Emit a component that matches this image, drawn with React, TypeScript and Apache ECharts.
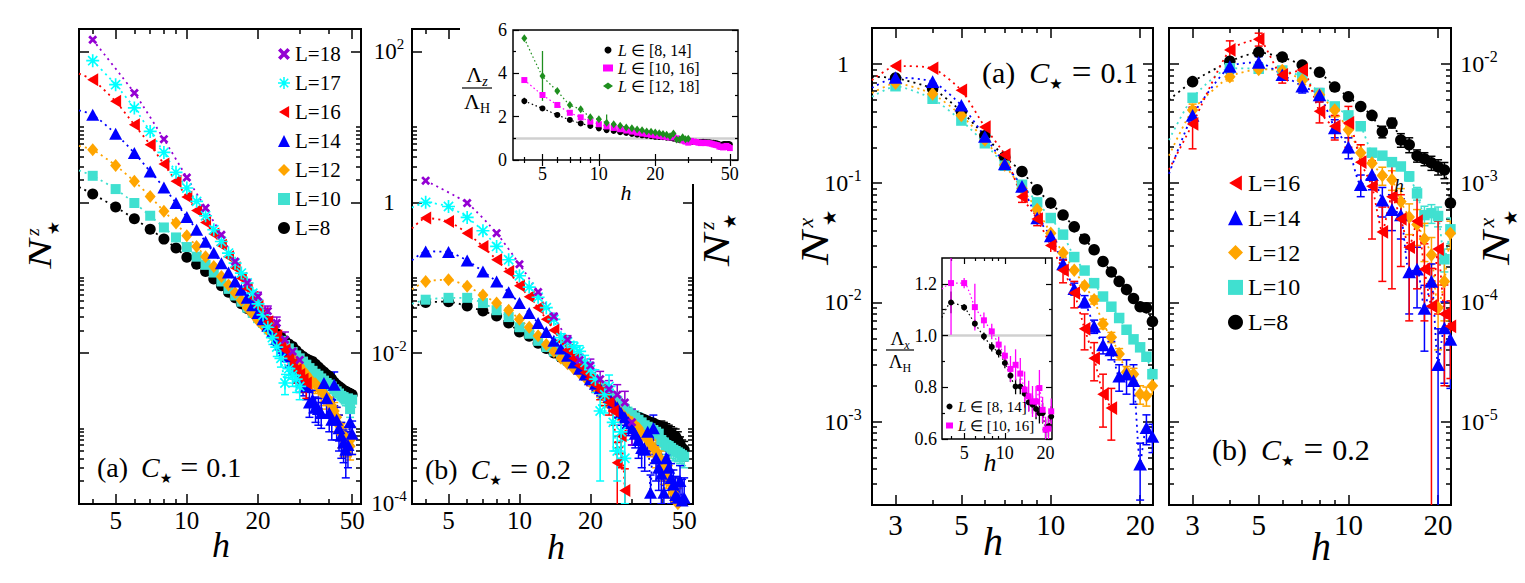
import { useEffect, useRef } from 'react'
import * as echarts from 'echarts'

const FONT = "'Liberation Serif', 'Times New Roman', serif"
const STAR_FONT = "'DejaVu Sans', sans-serif"

const COLORS = {
  black: '#000000',
  turquoise: '#40e0d0',
  orange: '#ffa500',
  blue: '#0000ff',
  red: '#ff0000',
  cyan: '#00ffff',
  violet: '#9400d3',
  magenta: '#ff00ff',
  green: '#1f8f1f',
}

// tick values
const hMajorZ = [5, 10, 20, 50]
const hMinorZ = [4, 6, 7, 8, 9, 30, 40]
const nzMajor = [1e-4, 1e-2, 1, 100]
const nzMinor = [2e-4, 3e-4, 4e-4, 5e-4, 6e-4, 7e-4, 8e-4, 9e-4, 1e-3, 0.02, 0.03, 0.04, 0.05, 0.06, 0.07, 0.08, 0.09, 0.1, 2, 3, 4, 5, 6, 7, 8, 9, 10]
const hMajorX = [3, 5, 10, 20]
const hMinorX = [4, 6, 7, 8, 9]
const nxMajorA = [1e-3, 1e-2, 0.1, 1]
const nxMajorB = [1e-5, 1e-4, 1e-3, 1e-2]
const lzMajorY = [0, 2, 4, 6]
const lzMinorY = [1, 3, 5]
const lxMajorX = [5, 10, 20]
const lxMajorY = [0.6, 0.8, 1.0, 1.2]
const lxMinorY = [0.7, 0.9, 1.1]

// N*^z, C* = 0.1   [h, value, error]
const zA18 = [[4, 144], [6, 28.3], [8, 6.9], [10, 2.14], [12, 0.84], [14, 0.372], [16, 0.164], [18, 0.085, 0.01], [20, 0.056, 0.008], [22, 0.036, 0.006], [24, 0.025, 0.005], [26, 0.015, 0.004], [28, 0.0105, 0.003], [30, 0.0081, 0.0025]]
const zA17 = [[4, 76], [5, 36.5], [6, 17.9], [7, 8.75], [8, 4.6], [9, 2.5], [10, 1.55], [11, 1.03], [12, 0.664], [13, 0.433], [14, 0.302], [15, 0.212], [16, 0.156], [17, 0.115], [18, 0.085], [19, 0.062, 0.006], [20, 0.045, 0.005], [21, 0.032, 0.004], [22, 0.022, 0.004], [23, 0.016, 0.003], [24, 0.012, 0.003], [25, 0.0085, 0.002], [26, 0.004, 0.0012], [27, 0.0062, 0.0015], [28, 0.0051, 0.0015], [29, 0.0045, 0.0015], [30, 0.0036, 0.0012]]
const zA16 = [[4, 42.5], [5, 21.9], [6, 10.7], [7, 5.82], [8, 3.22], [9, 1.9], [10, 1.18], [11, 0.78], [12, 0.54], [13, 0.38], [14, 0.27], [15, 0.19], [16, 0.135], [17, 0.098], [18, 0.072], [19, 0.055], [20, 0.042, 0.004], [21, 0.033, 0.004], [22, 0.026, 0.004], [23, 0.021, 0.004], [24, 0.017, 0.003], [25, 0.0135, 0.003], [26, 0.011, 0.003], [27, 0.0088, 0.002], [28, 0.0072, 0.002], [29, 0.006, 0.002], [30, 0.0052, 0.0015], [31, 0.0045, 0.0015], [32, 0.004, 0.0015]]
const zA14 = [[4, 14.6], [5, 8.15], [6, 4.52], [7, 2.57], [8, 1.58], [9, 0.98], [10, 0.64], [11, 0.433], [12, 0.3], [13, 0.215], [14, 0.156], [15, 0.117], [16, 0.089], [17, 0.069], [18, 0.054], [19, 0.043], [20, 0.034], [21, 0.028, 0.003], [22, 0.023, 0.003], [23, 0.019, 0.003], [24, 0.0155, 0.003], [25, 0.013, 0.003], [26, 0.0108, 0.003], [27, 0.009, 0.0025], [28, 0.0078, 0.0025], [29, 0.006, 0.002], [30, 0.005, 0.002], [31, 0.0042, 0.0015], [32, 0.0036, 0.0012], [33, 0.0022, 0.0008], [34, 0.0024, 0.0008], [35, 0.0019, 0.0007], [36, 0.0018, 0.0007], [37, 0.0016, 0.0006], [38, 0.004, 0.0015], [39, 0.0025, 0.001], [40, 0.0016, 0.0007], [41, 0.0013, 0.0006], [42, 0.0038, 0.0018], [43, 0.0013, 0.0006], [44, 0.001, 0.0005], [45, 0.0008, 0.0004], [46, 0.00065, 0.0003], [47, 0.00052, 0.0003], [48, 0.0006, 0.0003], [49, 0.0012, 0.0006], [50, 0.00085, 0.0004]]
const zA12 = [[4, 5.0], [5, 3.09], [6, 1.9], [7, 1.2], [8, 0.76], [9, 0.53], [10, 0.36], [11, 0.26], [12, 0.19], [13, 0.141], [14, 0.104], [15, 0.08], [16, 0.063], [17, 0.05], [18, 0.04], [19, 0.033], [20, 0.027], [21, 0.023], [22, 0.02], [23, 0.017], [24, 0.0148, 0.002], [25, 0.013, 0.002], [26, 0.0112, 0.002], [27, 0.0098, 0.002], [28, 0.0086, 0.002], [29, 0.0076, 0.0015], [30, 0.0067, 0.0015], [31, 0.0058, 0.0015], [32, 0.0052, 0.0012], [33, 0.0046, 0.0012], [34, 0.0041, 0.001], [35, 0.0039, 0.001], [36, 0.0035, 0.001], [37, 0.0031, 0.0009], [38, 0.0029, 0.0009], [39, 0.0026, 0.0008], [40, 0.0022, 0.0007], [41, 0.002, 0.0006], [42, 0.0017, 0.0005], [43, 0.0014, 0.0005], [44, 0.0011, 0.0004], [45, 0.00085, 0.0003], [46, 0.00072, 0.0003], [47, 0.00075, 0.0003], [48, 0.00062, 0.0002], [49, 0.00058, 0.0002], [50, 0.00075, 0.0003]]
const zA10 = [[4, 2.25], [5, 1.5], [6, 0.98], [7, 0.664], [8, 0.464], [9, 0.342], [10, 0.255], [11, 0.19], [12, 0.148], [13, 0.117], [14, 0.089], [15, 0.071], [16, 0.058], [17, 0.048], [18, 0.04], [19, 0.034], [20, 0.029], [21, 0.025], [22, 0.022], [23, 0.019], [24, 0.0165], [25, 0.0145], [26, 0.0128], [27, 0.0115], [28, 0.0103], [29, 0.0093], [30, 0.0085], [31, 0.0077], [32, 0.007], [33, 0.0063], [34, 0.0058], [35, 0.0053], [36, 0.005], [37, 0.0046], [38, 0.0043], [39, 0.004], [40, 0.0038], [41, 0.0036], [42, 0.0033], [43, 0.0031], [44, 0.0029], [45, 0.0027], [46, 0.0026, 0.0004], [47, 0.0024, 0.0004], [48, 0.0025, 0.0005], [49, 0.0018, 0.0004], [50, 0.0024, 0.0005]]
const zA8 = [[4, 1.29], [5, 0.865], [6, 0.605], [7, 0.44], [8, 0.325], [9, 0.247], [10, 0.187], [11, 0.151], [12, 0.121], [13, 0.096], [14, 0.078], [15, 0.064], [16, 0.054], [17, 0.045], [18, 0.039], [19, 0.034], [20, 0.03], [21, 0.026], [22, 0.023], [23, 0.02], [24, 0.018], [25, 0.016], [26, 0.0145], [27, 0.0132], [28, 0.0122], [29, 0.0108], [30, 0.0097], [31, 0.009], [32, 0.0084], [33, 0.008], [34, 0.0077], [35, 0.0071], [36, 0.0065], [37, 0.006], [38, 0.0056], [39, 0.0052], [40, 0.0049], [41, 0.0045], [42, 0.0041], [43, 0.0038], [44, 0.0036], [45, 0.0034], [46, 0.0032, 0.0003], [47, 0.0031, 0.0003], [48, 0.003, 0.0003], [49, 0.0029, 0.0003], [50, 0.0028, 0.0003]]
const zALead = [null, null, [3.5, 51], [3.5, 16.6], [3.5, 5.6], [3.5, 2.65], [3.5, 1.6]]

// N*^z, C* = 0.2
const zB18 = [[4, 1.94], [6, 0.977], [8, 0.39], [10, 0.151], [12, 0.0645], [14, 0.0305, 0.003], [16, 0.015, 0.002], [18, 0.0081, 0.0015], [20, 0.0068, 0.0015], [22, 0.0045, 0.0012], [24, 0.0033, 0.001], [26, 0.0028, 0.001], [28, 0.0022, 0.0009], [30, 0.0012, 0.0006]]
const zB17 = [[4, 1.0], [5, 0.88], [6, 0.63], [7, 0.42], [8, 0.26], [9, 0.173], [10, 0.106], [11, 0.075], [12, 0.055], [13, 0.04], [14, 0.028], [15, 0.016, 0.002], [16, 0.014, 0.002], [17, 0.012, 0.002], [18, 0.0105, 0.002], [19, 0.0075, 0.0018], [20, 0.006, 0.0015], [21, 0.0045, 0.0015], [22, 0.0017, 0.0015], [23, 0.0028, 0.0012], [24, 0.0036, 0.0015], [25, 0.0012, 0.0007], [26, 0.0005, 0.0003], [27, 0.0009, 0.0005], [28, 0.0004, 0.0003]]
const zB16 = [[4, 0.62], [5, 0.557], [6, 0.39], [7, 0.26], [8, 0.173], [9, 0.121], [10, 0.078], [11, 0.056], [12, 0.04], [13, 0.028], [14, 0.02], [15, 0.0145], [16, 0.011], [17, 0.0085, 0.001], [18, 0.0068, 0.001], [19, 0.0055, 0.001], [20, 0.0046, 0.0009], [21, 0.0038, 0.0008], [22, 0.0032, 0.0008], [23, 0.0027, 0.0007], [24, 0.0022, 0.0007], [25, 0.0017, 0.0006], [26, 0.00035, 0.0003], [27, 0.0008, 0.0005], [28, 0.00015, 0.00014]]
const zB14 = [[4, 0.223], [5, 0.219], [6, 0.169], [7, 0.121], [8, 0.089], [9, 0.064], [10, 0.046], [11, 0.034], [12, 0.025], [13, 0.019], [14, 0.0145], [15, 0.0115], [16, 0.0092], [17, 0.0075], [18, 0.0062], [19, 0.0052, 0.0008], [20, 0.0045, 0.0008], [21, 0.0039, 0.0007], [22, 0.0034, 0.0007], [23, 0.003, 0.0006], [24, 0.0026, 0.0006], [25, 0.0022, 0.0005], [26, 0.0019, 0.0005], [27, 0.0016, 0.0005], [28, 0.0014, 0.0004], [29, 0.0012, 0.0004], [30, 0.001, 0.0004], [31, 0.00085, 0.0003], [32, 0.0007, 0.0003], [33, 0.00055, 0.00025], [34, 0.00052, 0.00025], [35, 0.0009, 0.0004], [36, 0.00014, 0.0001], [37, 0.001, 0.0005], [38, 0.0004, 0.0002], [39, 0.0003, 0.00015], [40, 0.00025, 0.00015], [41, 0.00014, 0.0001], [42, 0.0004, 0.0002], [43, 0.0003, 0.00015], [44, 0.00022, 0.00012], [45, 0.00018, 0.0001], [46, 0.00013, 0.0001], [47, 0.00012, 0.0001], [48, 0.0002, 0.00012], [49, 0.00011, 0.0001], [50, 0.00012, 0.0001]]
const zB12 = [[4, 0.089], [5, 0.094], [6, 0.077], [7, 0.059], [8, 0.046], [9, 0.037], [10, 0.028], [11, 0.022], [12, 0.017], [13, 0.013], [14, 0.0105], [15, 0.0085], [16, 0.0072], [17, 0.0062], [18, 0.0054], [19, 0.0047], [20, 0.0041], [21, 0.0036, 0.0005], [22, 0.0031, 0.0005], [23, 0.0027, 0.0005], [24, 0.0024, 0.0005], [25, 0.0021, 0.0004], [26, 0.0018, 0.0004], [27, 0.0016, 0.0004], [28, 0.0014, 0.0004], [29, 0.0013, 0.0003], [30, 0.0012, 0.0003], [31, 0.0011, 0.0003], [32, 0.001, 0.0003], [33, 0.00085, 0.00025], [34, 0.0008, 0.00025], [35, 0.0007, 0.0002], [36, 0.00062, 0.0002], [37, 0.00055, 0.0002], [38, 0.0005, 0.0002], [39, 0.00042, 0.00015], [40, 0.00035, 0.00015], [41, 0.0003, 0.00012], [42, 0.00028, 0.00012], [43, 0.00022, 0.0001], [44, 0.00018, 0.0001], [45, 0.00014, 0.00008], [46, 0.00011, 0.00006], [47, 0.0001, 0.00006]]
const zB10 = [[4, 0.051], [5, 0.054], [6, 0.054], [7, 0.046], [8, 0.037], [9, 0.03], [10, 0.022], [11, 0.018], [12, 0.0145], [13, 0.012], [14, 0.0105], [15, 0.0092], [16, 0.008], [17, 0.007], [18, 0.0062], [19, 0.0055], [20, 0.0048], [21, 0.0042], [22, 0.0037], [23, 0.0033, 0.0004], [24, 0.0029, 0.0004], [25, 0.0026, 0.0004], [26, 0.0023, 0.0004], [27, 0.002, 0.0004], [28, 0.0018, 0.0003], [29, 0.0016, 0.0003], [30, 0.0015, 0.0003], [31, 0.0014, 0.0003], [32, 0.0013, 0.0003], [33, 0.0012, 0.0003], [34, 0.0011, 0.0002], [35, 0.00105, 0.0002], [36, 0.001, 0.0002], [37, 0.00095, 0.0002], [38, 0.0009, 0.0002], [39, 0.00085, 0.0002], [40, 0.0007, 0.0002], [41, 0.00065, 0.00015], [42, 0.0006, 0.00015], [43, 0.00058, 0.00015], [44, 0.00055, 0.00015], [45, 0.00052, 0.00015], [46, 0.0005, 0.00012], [47, 0.00048, 0.00012], [48, 0.00046, 0.00012], [49, 0.00044, 0.00012], [50, 0.00042, 0.00012]]
const zB8 = [[4, 0.047], [5, 0.048], [6, 0.042], [7, 0.036], [8, 0.031], [9, 0.025], [10, 0.019], [11, 0.0167], [12, 0.0135], [13, 0.0115], [14, 0.01], [15, 0.0088], [16, 0.0077], [17, 0.0068], [18, 0.006], [19, 0.0053], [20, 0.0047], [21, 0.0042], [22, 0.0037], [23, 0.0033], [24, 0.0029], [25, 0.0026], [26, 0.0023], [27, 0.002], [28, 0.0018], [29, 0.0016], [30, 0.0015], [31, 0.00145], [32, 0.0014], [33, 0.00135], [34, 0.0013], [35, 0.00125], [36, 0.0012], [37, 0.00118], [38, 0.00112], [39, 0.00108], [40, 0.00105, 0.0002], [41, 0.001, 0.0002], [42, 0.00095, 0.0002], [43, 0.0009, 0.0002], [44, 0.00085, 0.0002], [45, 0.0008, 0.0002], [46, 0.00078, 0.0002], [47, 0.0007, 0.0002], [48, 0.00062, 0.00015], [49, 0.00055, 0.00015], [50, 0.00052, 0.00015]]
const zBLead = [null, [3.5, 0.85], [3.5, 0.45], [3.5, 0.17], [3.5, 0.07], [3.5, 0.045], [3.5, 0.04]]

// inset: Lambda_z / Lambda_H
const lz8to14 = [[4, 2.72, 0.15], [5, 2.38], [6, 2.08], [7, 1.85], [8, 1.69], [9, 1.57], [10, 1.46], [11, 1.38], [12, 1.34], [13, 1.28], [14, 1.25], [15, 1.2], [16, 1.17], [17, 1.14], [18, 1.12], [19, 1.1], [20, 1.07], [21, 1.06], [22, 1.05], [23, 1.03], [24, 1.02], [25, 0.98], [26, 0.95], [27, 0.92], [28, 0.9], [29, 0.88], [30, 0.86], [31, 0.85], [32, 0.84], [33, 0.84], [34, 0.82], [35, 0.83], [36, 0.84], [37, 0.83], [38, 0.82], [39, 0.82], [40, 0.8], [41, 0.79], [42, 0.78], [43, 0.76], [44, 0.72], [45, 0.7], [46, 0.72], [47, 0.74], [48, 0.73], [49, 0.74], [50, 0.72]]
const lz10to16 = [[4, 3.69], [5, 3.0], [6, 2.54], [7, 2.18], [8, 1.97], [9, 1.77], [10, 1.65], [11, 1.55], [12, 1.48], [13, 1.42], [14, 1.36], [15, 1.31], [16, 1.26], [17, 1.22], [18, 1.19], [19, 1.16], [20, 1.13], [21, 1.1], [22, 1.08], [23, 1.06], [24, 1.04], [25, 1.06], [26, 1.0], [27, 0.95], [28, 0.9], [29, 0.85], [30, 0.8], [31, 0.88], [32, 0.85], [33, 0.83], [34, 0.8], [35, 0.78], [36, 0.8], [37, 0.78], [38, 0.79], [39, 0.77], [40, 0.75], [41, 0.72], [42, 0.7], [43, 0.68], [44, 0.62], [45, 0.6], [46, 0.58], [47, 0.62], [48, 0.65], [49, 0.6], [50, 0.55]]
const lz12to18 = [[4, 5.62], [5, 3.88, 1.15], [6, 3.18], [7, 2.54], [8, 2.34], [9, 1.97], [10, 1.88], [11, 1.72, 0.38], [12, 1.65], [13, 1.58], [14, 1.5], [15, 1.46], [16, 1.41], [17, 1.37], [18, 1.32], [19, 1.3], [20, 1.27], [21, 1.24], [22, 1.2], [23, 1.17], [24, 1.1], [25, 1.22], [26, 0.95], [27, 0.95], [28, 1.05], [29, 0.96], [30, 0.98]]

// N*^x, C* = 0.1
const xA16 = [[3, 0.96], [4, 0.92], [5, 0.6], [6, 0.295], [7, 0.173], [8, 0.077, 0.008], [9, 0.05, 0.006], [10, 0.03, 0.005], [11, 0.0186, 0.004], [12, 0.012, 0.003], [13, 0.006, 0.002], [14, 0.0034, 0.0012], [15, 0.0017, 0.0008], [16, 0.0013, 0.0006]]
const xA14 = [[3, 0.77], [4, 0.71], [5, 0.45], [6, 0.246], [7, 0.145], [8, 0.094], [9, 0.051], [10, 0.036], [11, 0.021, 0.002], [12, 0.013, 0.0015], [13, 0.0102, 0.0012], [14, 0.0063, 0.0008], [15, 0.0044, 0.0007], [16, 0.004, 0.0007], [17, 0.0024, 0.0006], [18, 0.0025, 0.0008], [19, 0.0022, 0.0008], [20, 0.00044, 0.00022], [21, 0.00089, 0.00025], [22, 0.00075, 0.0002]]
const xA12 = [[3, 0.69], [4, 0.56], [5, 0.37], [6, 0.23], [7, 0.142], [8, 0.09], [9, 0.06], [10, 0.038], [11, 0.026], [12, 0.0186], [13, 0.0138], [14, 0.0105, 0.0008], [15, 0.0066, 0.0006], [16, 0.0051, 0.0005], [17, 0.0037, 0.0004], [18, 0.0026, 0.0003], [19, 0.0025, 0.0003], [20, 0.0017, 0.0003], [21, 0.00165, 0.0003], [22, 0.002, 0.0003]]
const xA10 = [[3, 0.65], [4, 0.51], [5, 0.335], [6, 0.216], [7, 0.14], [8, 0.097], [9, 0.069], [10, 0.051], [11, 0.037], [12, 0.024], [13, 0.0185], [14, 0.0145], [15, 0.0112], [16, 0.0092], [17, 0.0074], [18, 0.0059], [19, 0.0049], [20, 0.0042], [21, 0.0035], [22, 0.0025]]
const xA8 = [[3, 0.76], [4, 0.62], [5, 0.4], [6, 0.25], [7, 0.165], [8, 0.125], [9, 0.088], [10, 0.068], [11, 0.054], [12, 0.043], [13, 0.034], [14, 0.0276], [15, 0.022], [16, 0.018], [17, 0.015], [18, 0.0128], [19, 0.0108], [20, 0.0092], [21, 0.009], [22, 0.0069]]
const xALead = [[2.5, 0.73], [2.5, 0.63], [2.5, 0.57], [2.5, 0.53], [2.5, 0.78]]

// N*^x, C* = 0.2
const xB16 = [[3, 0.00314, 0.0012], [4, 0.0131, 0.0025], [5, 0.0161, 0.002], [6, 0.0081, 0.0012], [7, 0.0089, 0.0015], [8, 0.004, 0.0008], [9, 0.003, 0.0007], [10, 0.0032, 0.0012], [11, 0.0015, 0.0006], [12, 0.00094, 0.0006], [13, 0.00039, 0.00024], [14, 0.00077, 0.00064], [15, 0.0005, 0.0003], [16, 0.00029, 0.00022], [17, 0.00048, 0.00035], [18, 0.00019, 0.00012], [19, 0.000093, 0.0001], [20, 0.00028, 0.0002], [21, 0.00008, 0.00006], [22, 0.000063, 0.00004]]
const xB14 = [[3, 0.0037, 0.0006], [4, 0.0095, 0.0012], [5, 0.0103, 0.0012], [6, 0.0081, 0.0008], [7, 0.0065, 0.0008], [8, 0.0055, 0.0007], [9, 0.0029, 0.0005], [10, 0.002, 0.0004], [11, 0.00097, 0.0002], [12, 0.00118, 0.0003], [13, 0.00072, 0.0002], [14, 0.0006, 0.0002], [15, 0.00054, 0.0002], [16, 0.00018, 0.0001], [17, 0.00019, 0.0001], [18, 0.000089, 0.00005], [19, 0.00015, 0.00006], [20, 0.00003, 0.00003], [21, 0.000061, 0.00004], [22, 0.000049, 0.00003]]
const xB12 = [[3, 0.0041, 0.0005], [4, 0.0078, 0.0006], [5, 0.009, 0.0006], [6, 0.0088, 0.0006], [7, 0.0073, 0.0006], [8, 0.0055, 0.0006], [9, 0.0041, 0.0005], [10, 0.0028, 0.0004], [11, 0.0018, 0.0003], [12, 0.00147, 0.0003], [13, 0.00116, 0.0002], [14, 0.00107, 0.0002], [15, 0.0007, 0.0002], [16, 0.00052, 0.00015], [17, 0.00045, 0.00015], [18, 0.00034, 0.00012], [19, 0.00025, 0.0001], [20, 0.00009, 0.00005], [21, 0.00015, 0.00008], [22, 0.00038, 0.0001]]
const xB10 = [[3, 0.0052], [4, 0.0092], [5, 0.0091], [6, 0.0088], [7, 0.0078], [8, 0.0057], [9, 0.0044], [10, 0.0037], [11, 0.003], [12, 0.0018], [13, 0.0017], [14, 0.0015], [15, 0.00138, 0.0001], [16, 0.00114, 0.0001], [17, 0.00082, 0.0001], [18, 0.00054, 0.0001], [19, 0.00056, 0.0001], [20, 0.00053, 0.0001], [21, 0.00023, 0.00005], [22, 0.00041, 0.0001]]
const xB8 = [[3, 0.0071], [4, 0.0105], [5, 0.0125], [6, 0.0114], [7, 0.0098], [8, 0.0085], [9, 0.0064], [10, 0.0053], [11, 0.0044], [12, 0.0037], [13, 0.0027, 0.0003], [14, 0.0032, 0.0003], [15, 0.0023, 0.0003], [16, 0.0021, 0.0003], [17, 0.0017, 0.0002], [18, 0.0016, 0.0002], [19, 0.00148, 0.0002], [20, 0.00137, 0.0002], [21, 0.00129, 0.0002], [22, 0.00068]]
const xBLead = [[2.5, 0.0013], [2.5, 0.0012], [2.5, 0.0017], [2.5, 0.0023], [2.5, 0.005]]

// inset: Lambda_x / Lambda_H
const lx8to14 = [[4, 1.128, 0.042], [5, 1.109, 0.012], [6, 1.046, 0.015], [7, 0.997, 0.015], [8, 0.956, 0.018], [9, 0.935, 0.02], [10, 0.894, 0.02], [11, 0.845, 0.025], [12, 0.803, 0.03], [13, 0.803, 0.03], [14, 0.775, 0.03], [15, 0.742, 0.035], [16, 0.733, 0.035], [17, 0.716, 0.04], [18, 0.7, 0.04], [19, 0.7, 0.04], [20, 0.636, 0.04], [21, 0.649, 0.04], [22, 0.687, 0.04]]
const lx10to16 = [[4, 1.203, 0.2], [5, 1.203, 0.02], [6, 1.11, 0.09], [7, 1.059, 0.03], [8, 1.016, 0.03], [9, 0.965, 0.03], [10, 0.922, 0.04], [11, 0.871, 0.05], [12, 0.887, 0.06], [13, 0.853, 0.06], [14, 0.791, 0.07], [15, 0.765, 0.06], [16, 0.745, 0.06], [17, 0.745, 0.06], [18, 0.797, 0.07], [19, 0.713, 0.05], [20, 0.636, 0.05], [21, 0.64, 0.05], [22, 0.707, 0.05]]
const lxLead = [[3.43, 1.07], [3.43, 1.18]]

const leftNames = ['L=18', 'L=17', 'L=16', 'L=14', 'L=12', 'L=10', 'L=8']
const rightNames = ['L=16', 'L=14', 'L=12', 'L=10', 'L=8']
const insetNames = ['L ∈ [8, 14]', 'L ∈ [10, 16]', 'L ∈ [12, 18]']

function barPath(angles: number[], t: number) {
  const parts = angles.map((a) => {
    const r = (a * Math.PI) / 180
    const c = Math.cos(r)
    const s = Math.sin(r)
    const corners = [[-10, -t / 2], [10, -t / 2], [10, t / 2], [-10, t / 2]]
    const pts = corners.map(([x, y]) => `${(10 + x * c - y * s).toFixed(2)},${(10 + x * s + y * c).toFixed(2)}`)
    return `M${pts.join('L')}Z`
  })
  return `path://${parts.join('')}`
}

const SYMBOL = {
  cross: barPath([45, 135], 5.5),
  asterisk: barPath([0, 45, 90, 135], 2.6),
  left: 'path://M0,10L17,0L17,20Z',
}

const STYLE: Record<string, { color: string; symbol: string; size: number[] }> = {
  'L=18': { color: COLORS.violet, symbol: SYMBOL.cross, size: [9, 9] },
  'L=17': { color: COLORS.cyan, symbol: SYMBOL.asterisk, size: [13, 13] },
  'L=16': { color: COLORS.red, symbol: SYMBOL.left, size: [11, 13] },
  'L=14': { color: COLORS.blue, symbol: 'triangle', size: [13, 12] },
  'L=12': { color: COLORS.orange, symbol: 'diamond', size: [11, 13] },
  'L=10': { color: COLORS.turquoise, symbol: 'rect', size: [10, 10] },
  'L=8': { color: COLORS.black, symbol: 'circle', size: [11, 11] },
  'L ∈ [8, 14]': { color: COLORS.black, symbol: 'circle', size: [6, 6] },
  'L ∈ [10, 16]': { color: COLORS.magenta, symbol: 'rect', size: [6, 6] },
  'L ∈ [12, 18]': { color: COLORS.green, symbol: 'diamond', size: [6, 8] },
}

function decadeMinor(from: number, to: number) {
  const out: number[] = []
  for (let e = from; e < to; e++) for (let k = 2; k <= 9; k++) out.push(k * Math.pow(10, e))
  return out
}

function powLabel(v: number) {
  const e = Math.round(Math.log10(v))
  return e === 0 ? '{n|1}' : `{n|10}{s|${e}}`
}

function powRich(size: number) {
  return {
    n: { fontFamily: FONT, fontSize: size, lineHeight: size + 7, color: '#000' },
    s: { fontFamily: FONT, fontSize: Math.round(size * 0.66), lineHeight: Math.round(size * 0.66), verticalAlign: 'top', color: '#000' },
  }
}

function buildOption() {
  const grid: any[] = []
  const xAxis: any[] = []
  const yAxis: any[] = []
  const series: any[] = []

  const axis = (base: any, position: string, ticks: number[], length: number, width: number, label?: any) => ({
    ...base,
    position,
    axisLine: { show: false },
    splitLine: { show: false },
    axisTick: { show: true, inside: true, length, customValues: ticks, lineStyle: { color: '#000', width } },
    axisLabel: label
      ? {
          show: true,
          customValues: label.values,
          formatter: label.formatter,
          margin: label.margin,
          align: label.align,
          color: '#000',
          fontFamily: FONT,
          fontSize: label.size,
          rich: label.rich,
        }
      : { show: false },
  })

  const frame = (f: any) => {
    const g = grid.length
    grid.push({
      left: f.box[0],
      top: f.box[1],
      width: f.box[2],
      height: f.box[3],
      show: true,
      borderColor: '#000',
      borderWidth: f.border,
      backgroundColor: 'transparent',
      containLabel: false,
      outerBoundsMode: 'none',
      z: f.z,
    })
    const xb = { gridIndex: g, type: f.xType, logBase: 10, min: f.x[0], max: f.x[1], z: f.z, silent: true }
    const yb = { gridIndex: g, type: f.yType, logBase: 10, min: f.y[0], max: f.y[1], z: f.z, silent: true }
    const xi = xAxis.length
    xAxis.push(axis(xb, 'bottom', f.xMajor, f.tick, f.width, f.xLabel))
    xAxis.push(axis(xb, 'bottom', f.xMinor, f.tick / 2, f.width))
    xAxis.push(axis(xb, 'top', f.xMajor, f.tick, f.width))
    xAxis.push(axis(xb, 'top', f.xMinor, f.tick / 2, f.width))
    const yi = yAxis.length
    yAxis.push(axis(yb, 'left', f.yMajor, f.tick, f.width, f.yLabel?.side === 'left' ? f.yLabel : undefined))
    yAxis.push(axis(yb, 'left', f.yMinor, f.tick / 2, f.width))
    yAxis.push(axis(yb, 'right', f.yMajor, f.tick, f.width, f.yLabel?.side === 'right' ? f.yLabel : undefined))
    yAxis.push(axis(yb, 'right', f.yMinor, f.tick / 2, f.width))
    return { xi, yi, yMin: f.y[0] }
  }

  const addSeries = (fr: any, list: any[], o: any) => {
    list.forEach((s) => {
      const st = STYLE[s.name]
      series.push({
        type: 'line',
        name: `${s.name} fit`,
        xAxisIndex: fr.xi,
        yAxisIndex: fr.yi,
        data: [...(s.lead ? [s.lead] : []), ...s.data].map((p: number[]) => [p[0], p[1]]),
        showSymbol: false,
        symbol: 'none',
        smooth: o.smooth,
        silent: true,
        z: o.z,
        lineStyle: { color: st.color, width: o.lineWidth, type: o.dash },
        markLine: s.markLine,
      })
      const errs = s.data.filter((p: number[]) => p[2])
      if (errs.length) {
        series.push({
          type: 'custom',
          name: `${s.name} err`,
          xAxisIndex: fr.xi,
          yAxisIndex: fr.yi,
          clip: true,
          silent: true,
          z: o.z + 1,
          data: errs.map((p: number[]) => [p[0], Math.max(p[1] - p[2], fr.yMin * 0.3), p[1] + p[2]]),
          encode: { x: 0, y: [1, 2] },
          renderItem: (_params: any, api: any) => {
            const top = api.coord([api.value(0), api.value(2)])
            const bot = api.coord([api.value(0), api.value(1)])
            const style = { stroke: st.color, lineWidth: o.errWidth }
            const children: any[] = [{ type: 'line', shape: { x1: top[0], y1: top[1], x2: bot[0], y2: bot[1] }, style }]
            if (o.cap > 0) {
              children.push({ type: 'line', shape: { x1: top[0] - o.cap, y1: top[1], x2: top[0] + o.cap, y2: top[1] }, style })
              children.push({ type: 'line', shape: { x1: bot[0] - o.cap, y1: bot[1], x2: bot[0] + o.cap, y2: bot[1] }, style })
            }
            return { type: 'group', children }
          },
        })
      }
      series.push({
        type: 'scatter',
        name: s.name,
        xAxisIndex: fr.xi,
        yAxisIndex: fr.yi,
        data: s.data.map((p: number[]) => [p[0], p[1]]),
        symbol: st.symbol,
        symbolSize: st.size.map((v) => v * o.scale),
        itemStyle: { color: st.color, opacity: 1 },
        silent: true,
        z: o.z + 2,
      })
    })
  }

  const mainOpts = { smooth: 0.2, lineWidth: 1.8, dash: [2, 4], errWidth: 1.5, cap: 4, scale: 1, z: 2 }
  const insetOpts = { smooth: 0.2, lineWidth: 1.2, dash: [1.5, 2.5], errWidth: 1.3, cap: 0, scale: 1, z: 12 }
  const oneLine = { silent: true, symbol: 'none', label: { show: false }, lineStyle: { color: '#d0d0d0', width: 2.5, type: 'solid' }, data: [{ yAxis: 1 }] }

  const zLeftCommon = {
    xType: 'log', yType: 'log', x: [3.5, 54.5], y: [0.99e-4, 200],
    xMajor: hMajorZ, xMinor: hMinorZ, yMajor: nzMajor, yMinor: nzMinor,
    tick: 10, width: 1.5, border: 2, z: 0,
    xLabel: { values: hMajorZ, formatter: (v: number) => `${v}`, margin: 4, size: 25 },
  }
  const fLA = frame({ ...zLeftCommon, box: [79, 29, 282, 475] })
  const fLB = frame({
    ...zLeftCommon,
    box: [412, 29, 281, 475],
    yLabel: { side: 'left', values: nzMajor, formatter: powLabel, margin: 23, align: 'center', size: 23, rich: powRich(23) },
  })
  const fLI = frame({
    box: [513, 30, 225, 130], xType: 'log', yType: 'value', x: [3.48, 55.3], y: [0, 6],
    xMajor: hMajorZ, xMinor: hMinorZ, yMajor: lzMajorY, yMinor: lzMinorY,
    tick: 6, width: 1.2, border: 1.5, z: 10,
    xLabel: { values: hMajorZ, formatter: (v: number) => `${v}`, margin: 5, size: 18 },
    yLabel: { side: 'left', values: lzMajorY, formatter: (v: number) => `${v}`, margin: 6, align: 'right', size: 18 },
  })
  const xRightCommon = {
    xType: 'log', yType: 'log', x: [2.5, 22.1],
    xMajor: hMajorX, xMinor: hMinorX, tick: 10, width: 1.5, border: 2, z: 0,
    xLabel: { values: hMajorX, formatter: (v: number) => `${v}`, margin: 5, size: 29 },
  }
  const fRA = frame({
    ...xRightCommon,
    box: [872, 28, 281, 477], y: [2e-4, 2], yMajor: nxMajorA, yMinor: decadeMinor(-4, 0).filter((v) => v > 2.01e-4),
    yLabel: { side: 'left', values: nxMajorA, formatter: powLabel, margin: 29, align: 'center', size: 24, rich: powRich(24) },
  })
  const fRB = frame({
    ...xRightCommon,
    box: [1169, 28, 282, 477], y: [2e-6, 2e-2], yMajor: nxMajorB, yMinor: decadeMinor(-6, -2).filter((v) => v > 2.01e-6),
    yLabel: { side: 'right', values: nxMajorB, formatter: powLabel, margin: 28, align: 'center', size: 24, rich: powRich(24) },
  })
  const fRI = frame({
    box: [942, 258, 110, 181], xType: 'log', yType: 'value', x: [3.43, 22.3], y: [0.6, 1.3],
    xMajor: lxMajorX, xMinor: hMinorX, yMajor: lxMajorY, yMinor: lxMinorY,
    tick: 6, width: 1.2, border: 1.5, z: 10,
    xLabel: { values: lxMajorX, formatter: (v: number) => `${v}`, margin: 5, size: 18 },
    yLabel: { side: 'left', values: lxMajorY, formatter: (v: number) => v.toFixed(1), margin: 5, align: 'right', size: 18 },
  })

  const zAData = [zA18, zA17, zA16, zA14, zA12, zA10, zA8]
  const zBData = [zB18, zB17, zB16, zB14, zB12, zB10, zB8]
  const order = [6, 5, 4, 3, 2, 1, 0]
  addSeries(fLA, order.map((i) => ({ name: leftNames[i], data: zAData[i], lead: zALead[i] })), mainOpts)
  addSeries(fLB, order.map((i) => ({ name: leftNames[i], data: zBData[i], lead: zBLead[i] })), mainOpts)
  addSeries(fLI, [
    { name: insetNames[0], data: lz8to14, markLine: oneLine },
    { name: insetNames[1], data: lz10to16 },
    { name: insetNames[2], data: lz12to18 },
  ], insetOpts)

  const xAData = [xA16, xA14, xA12, xA10, xA8]
  const xBData = [xB16, xB14, xB12, xB10, xB8]
  const rOrder = [4, 3, 2, 1, 0]
  const rightOpts = { ...mainOpts, scale: 1.05 }
  addSeries(fRA, rOrder.map((i) => ({ name: rightNames[i], data: xAData[i], lead: xALead[i] })), rightOpts)
  addSeries(fRB, rOrder.map((i) => ({ name: rightNames[i], data: xBData[i], lead: xBLead[i] })), rightOpts)
  addSeries(fRI, [
    { name: insetNames[0], data: lx8to14, lead: lxLead[0], markLine: oneLine },
    { name: insetNames[1], data: lx10to16, lead: lxLead[1] },
  ], insetOpts)

  const legend = (left: number, top: number, data: string[], size: number, lineHeight: number, gap: number, iw: number, ih: number, italic: boolean) => ({
    left,
    top,
    orient: 'vertical',
    data,
    selectedMode: false,
    itemWidth: iw,
    itemHeight: ih,
    itemGap: gap,
    padding: 0,
    z: 20,
    formatter: italic ? (name: string) => name.replace('L', '{i|L}') : undefined,
    textStyle: {
      fontFamily: FONT,
      fontSize: size,
      lineHeight,
      color: '#000',
      rich: italic ? { i: { fontFamily: FONT, fontStyle: 'italic', fontSize: size, lineHeight, color: '#000' } } : undefined,
    },
  })

  const text = (t: string, x: number, y: number, size: number, extra: any = {}) => ({
    type: 'text',
    x,
    y,
    z: 20,
    silent: true,
    style: { text: t, fontFamily: FONT, fontSize: size, fill: '#000', align: 'center', verticalAlign: 'middle', ...extra },
  })

  // "(a)  C* = 0.1" with explicit gaps, subscript star
  const title = (tag: string, value: string, x: number, y: number, size: number) => {
    const lh = size + 8
    const base = { fontFamily: FONT, fontSize: size, lineHeight: lh, color: '#000' }
    return text(`{n|(${tag})}{g1| }{c|C}{s|★}{g2| }{e|=}{g3| }{n|${value}}`, x, y, size, {
      align: 'left',
      rich: {
        n: base,
        g1: { ...base, width: Math.round(size * 0.45) },
        g2: { ...base, width: Math.round(size * 0.3) },
        g3: { ...base, width: Math.round(size * 0.3) },
        e: { ...base, fontSize: Math.round(size * 1.15) },
        c: { ...base, fontStyle: 'italic' },
        s: { fontFamily: STAR_FONT, fontSize: Math.round(size * 0.5), lineHeight: Math.round(size * 0.5), verticalAlign: 'bottom', color: '#000' },
      },
    })
  }

  const nLabel = (x: number, y: number, sup: string, k: number) => ({
    type: 'group',
    x,
    y,
    rotation: Math.PI / 2,
    z: 20,
    silent: true,
    children: [
      { type: 'text', z: 20, scaleX: 1.3, style: { text: 'N', fontFamily: FONT, fontStyle: 'italic', fontSize: 34 * k, fill: '#000', align: 'center', verticalAlign: 'middle' } },
      { type: 'text', x: 22 * k, y: -8 * k, z: 20, style: { text: sup, fontFamily: FONT, fontStyle: 'italic', fontSize: 19 * k, fill: '#000', align: 'center', verticalAlign: 'middle' } },
      { type: 'text', x: 26 * k, y: 13 * k, z: 20, style: { text: '★', fontFamily: STAR_FONT, fontSize: 16 * k, fill: '#000', align: 'center', verticalAlign: 'middle' } },
    ],
  })

  const fraction = (cx: number, cy: number, sub: string, size: number, half: number) => {
    const rich = {
      a: { fontFamily: FONT, fontSize: size, lineHeight: size + 6, color: '#000' },
      b: { fontFamily: FONT, fontStyle: 'italic', fontSize: Math.round(size * 0.62), lineHeight: Math.round(size * 0.62), verticalAlign: 'bottom', color: '#000' },
      c: { fontFamily: FONT, fontSize: Math.round(size * 0.62), lineHeight: Math.round(size * 0.62), verticalAlign: 'bottom', color: '#000' },
    }
    return [
      text(`{a|Λ}{b|${sub}}`, cx, cy - size * 0.62, size, { rich }),
      { type: 'line', z: 20, silent: true, shape: { x1: cx - half, y1: cy, x2: cx + half, y2: cy }, style: { stroke: '#000', lineWidth: 1.2 } },
      text(`{a|Λ}{c|H}`, cx, cy + size * 0.62, size, { rich }),
    ]
  }

  const italic = { fontStyle: 'italic' }

  return {
    animation: false,
    backgroundColor: '#ffffff',
    textStyle: { fontFamily: FONT },
    grid,
    xAxis,
    yAxis,
    series,
    legend: [
      legend(278, 43, leftNames, 21, 22, 7, 12, 12, false),
      legend(1228, 170, rightNames, 24, 26, 8.8, 15, 15, false),
      legend(603, 42, insetNames, 16, 16, 2, 10, 7, true),
      legend(946, 399, insetNames.slice(0, 2), 15, 15, 4, 7, 6, true),
    ],
    graphic: {
      elements: [
        { type: 'rect', z: 5, silent: true, shape: { x: 460, y: 0, width: 290, height: 184 }, style: { fill: '#ffffff' } },
        { type: 'rect', z: 5, silent: true, shape: { x: 884, y: 252, width: 172, height: 226 }, style: { fill: '#ffffff' } },
        nLabel(40, 254, 'z', 1),
        nLabel(716, 250, 'z', 1.1),
        nLabel(815, 248, 'x', 1.15),
        nLabel(1496, 248, 'x', 1.15),
        text('h', 221, 545, 36, italic),
        text('h', 556, 547, 36, italic),
        text('h', 993, 541, 40, italic),
        text('h', 1321, 546, 40, italic),
        text('h', 626, 192, 22, italic),
        text('h', 990, 462, 26, italic),
        text('h', 1399, 185, 19, italic),
        title('a', '0.1', 97, 467, 28),
        title('b', '0.2', 425, 469, 28),
        title('a', '0.1', 982, 72, 30),
        title('b', '0.2', 1212, 449, 30),
        ...fraction(477, 88, 'z', 22, 15),
        ...fraction(900, 350, 'x', 19, 14),
      ],
    },
  }
}

export default function App() {
  const chartRef = useRef<HTMLDivElement>(null)

  useEffect(() => {
    const element = chartRef.current
    if (!element) return
    const instance = echarts.init(element, null, { renderer: 'svg' })
    instance.setOption(buildOption() as any)
    return () => instance.dispose()
  }, [])

  return (
    <div
      ref={chartRef}
      style={{ position: 'absolute', left: 0, top: 0, width: 1525, height: 583, background: '#ffffff' }}
    />
  )
}
